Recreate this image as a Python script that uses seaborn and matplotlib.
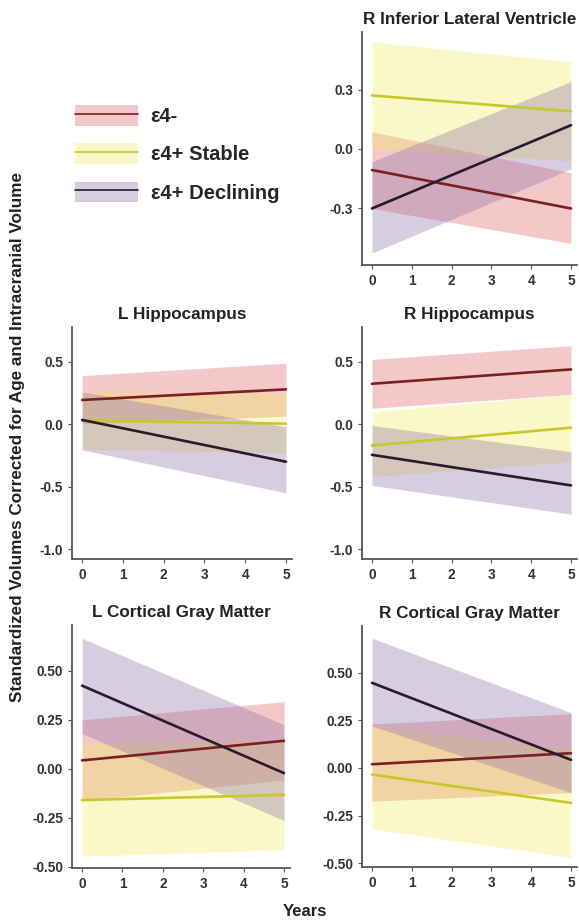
import matplotlib
matplotlib.use("Agg")
import matplotlib.pyplot as plt
import pandas as pd
import seaborn as sns
from matplotlib.patches import Patch
from matplotlib.lines import Line2D

# Данные: значения линий и доверительных полос при 0 и 5 годах
years = [0, 5]
panels = ["R Inferior Lateral Ventricle", "L Hippocampus", "R Hippocampus",
          "L Cortical Gray Matter", "R Cortical Gray Matter"]
groups = ["\u03b54-", "\u03b54+ Stable", "\u03b54+ Declining"]

e4neg_fit = [(-0.106, -0.30), (0.195, 0.28), (0.325, 0.44), (0.043, 0.143), (0.019, 0.077)]
e4neg_lo = [(-0.30, -0.476), (0.005, 0.065), (0.128, 0.24), (-0.164, -0.057), (-0.175, -0.13)]
e4neg_hi = [(0.087, -0.12), (0.39, 0.49), (0.52, 0.63), (0.25, 0.343), (0.23, 0.284)]

stable_fit = [(0.27, 0.19), (0.03, 0.005), (-0.17, -0.027), (-0.16, -0.133), (-0.035, -0.184)]
stable_lo = [(0.0, -0.06), (-0.2, -0.23), (-0.42, -0.30), (-0.447, -0.413), (-0.32, -0.47)]
stable_hi = [(0.54, 0.44), (0.26, 0.25), (0.10, 0.24), (0.13, 0.147), (0.214, 0.10)]

decl_fit = [(-0.30, 0.12), (0.035, -0.30), (-0.245, -0.49), (0.425, -0.022), (0.446, 0.042)]
decl_lo = [(-0.525, -0.10), (-0.205, -0.55), (-0.49, -0.72), (0.18, -0.264), (0.22, -0.13)]
decl_hi = [(-0.064, 0.34), (0.26, -0.02), (-0.01, -0.22), (0.667, 0.225), (0.68, 0.29)]

y_ticks = [[-0.3, 0.0, 0.3], [-1.0, -0.5, 0.0, 0.5], [-1.0, -0.5, 0.0, 0.5],
           [-0.5, -0.25, 0.0, 0.25, 0.5], [-0.5, -0.25, 0.0, 0.25, 0.5]]
y_fmt = ["{:.1f}", "{:.1f}", "{:.1f}", "{:.2f}", "{:.2f}"]
y_lims = [(-0.585, 0.59), (-1.08, 0.78), (-1.08, 0.78), (-0.507, 0.735), (-0.52, 0.744)]

line_colors = ["#7b2020", "#c8c828", "#2a1a2a"]
band_colors = ["#e26262", "#f1eb62", "#8d70a9"]
band_alpha = 0.35

# Положение осей в пикселях: left, top, right, bottom
W, H = 579, 923
boxes = [(362, 32, 577, 265), (72, 327, 292, 559), (362, 327, 577, 559),
         (72, 625, 290, 868), (362, 626, 577, 867)]

sns.set_style("white")
plt.rcParams["font.family"] = ["Liberation Sans", "DejaVu Sans"]

fig = plt.figure(figsize=(W / 100, H / 100), dpi=100)

fits = [e4neg_fit, stable_fit, decl_fit]
los = [e4neg_lo, stable_lo, decl_lo]
his = [e4neg_hi, stable_hi, decl_hi]

for i, name in enumerate(panels):
    l, t, r, b = boxes[i]
    ax = fig.add_axes([l / W, 1 - b / H, (r - l) / W, (b - t) / H])

    # Полосы
    for g in range(3):
        ax.fill_between(years, los[g][i], his[g][i], color=band_colors[g],
                        alpha=band_alpha, linewidth=0)

    # Линии
    rows = []
    for g in range(3):
        for k, yr in enumerate(years):
            rows.append({"Years": yr, "value": fits[g][i][k], "group": groups[g]})
    df = pd.DataFrame(rows)
    sns.lineplot(data=df, x="Years", y="value", hue="group", palette=line_colors,
                 linewidth=1.9, legend=False, ax=ax)

    ax.set_xlim(-0.25, 5.15)
    ax.set_ylim(*y_lims[i])
    ax.set_xticks(range(6))
    ax.set_yticks(y_ticks[i])
    ax.set_yticklabels([y_fmt[i].format(v) for v in y_ticks[i]])
    ax.set_xlabel("")
    ax.set_ylabel("")
    ax.set_title(name, fontsize=12.3, fontweight="bold", pad=6, color="#222222")
    for s in ["top", "right"]:
        ax.spines[s].set_visible(False)
    for s in ["left", "bottom"]:
        ax.spines[s].set_color("#555555")
        ax.spines[s].set_linewidth(1.3)
    ax.tick_params(axis="both", length=3, color="#555555", labelsize=9.8,
                   labelcolor="#333333", direction="out", left=True, bottom=True)
    for lab in ax.get_xticklabels() + ax.get_yticklabels():
        lab.set_fontweight("bold")

# Легенда
handles = []
for g in range(3):
    handles.append((Patch(facecolor=band_colors[g], alpha=band_alpha, linewidth=0),
                    Line2D([], [], color=line_colors[g], linewidth=1.2)))
fig.legend(handles, groups, loc="upper left", bbox_to_anchor=(57 / W, 1 - 87 / H),
           frameon=False, handlelength=3.1, handleheight=1.2, labelspacing=0.85,
           handletextpad=0.65, prop={"size": 14.5, "weight": "bold"})

fig.text(18 / W, 1 - 437 / H,
         "Standardized Volumes Corrected for Age and Intracranial Volume",
         rotation=90, ha="center", va="center", fontsize=12.3, fontweight="bold",
         color="#222222")
fig.text(305 / W, 1 - 912 / H, "Years", ha="center", va="center",
         fontsize=12, fontweight="bold", color="#222222")

fig.savefig("out.png", dpi=100)
